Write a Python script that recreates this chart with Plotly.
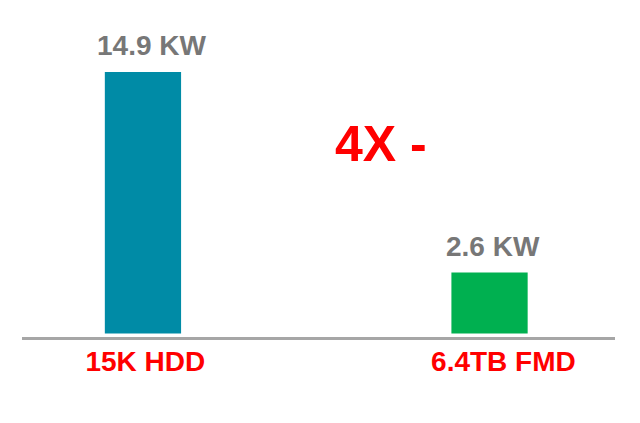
import plotly.graph_objects as go

categories = ["15K HDD", "6.4TB FMD"]
bar_heights = [14.9, 3.47]          # heights as drawn in the picture
value_labels = ["14.9 KW", "2.6 KW"]
bar_colors = ["#008BA6", "#00B050"]
ratio_text = "4X -"

FONT = "Liberation Sans, Arial, sans-serif"
label_xshifts = [9, 3]
tick_offsets = [0.007, 0.04]   # category labels sit slightly right of bar centres

fig = go.Figure()
fig.add_trace(go.Bar(
    x=categories,
    y=bar_heights,
    marker=dict(color=bar_colors, line=dict(width=0)),
    width=0.22,
    hoverinfo="skip",
))

for cat, h, lab, xs in zip(categories, bar_heights, value_labels, label_xshifts):
    fig.add_annotation(
        x=cat, y=h, xref="x", yref="y",
        text="<b>%s</b>" % lab, showarrow=False,
        yanchor="bottom", xanchor="center", yshift=9, xshift=xs,
        font=dict(family=FONT, size=28, color="#777777"),
    )

fig.add_annotation(
    x=0.5237, y=0.61, xref="paper", yref="paper",
    text="<b>%s</b>" % ratio_text, showarrow=False,
    xanchor="left", yanchor="middle",
    font=dict(family=FONT, size=50, color="#FF0000"),
)

fig.update_layout(
    width=632, height=415,
    margin=dict(l=14, r=25, t=12, b=85.5),
    paper_bgcolor="white", plot_bgcolor="white",
    showlegend=False,
    xaxis=dict(
        range=[-0.349, 1.362],
        showline=True, linecolor="#A6A6A6", linewidth=3,
        showgrid=False, zeroline=False, ticks="",
        tickfont=dict(family=FONT, size=28, color="#FF0000"),
        tickmode="array",
        tickvals=[i + o for i, o in enumerate(tick_offsets)],
        ticktext=["<b>%s</b>" % c for c in categories],
        ticklabelstandoff=-3,
    ),
    yaxis=dict(
        range=[-0.2, 17.86],
        visible=False, showgrid=False, zeroline=False,
    ),
)

fig.write_html("out.html")
